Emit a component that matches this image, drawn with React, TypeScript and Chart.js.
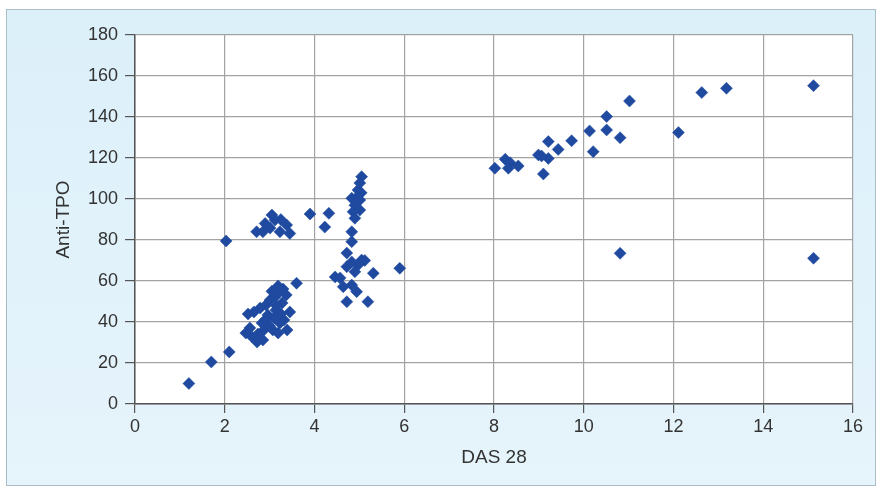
import React, { useEffect, useRef } from "react";
import { Chart, registerables } from "chart.js";

Chart.register(...registerables);

// DAS 28 values (x) and Anti-TPO values (y), paired by index
const dasValues: number[] = [
  1.2, 1.7, 2.1, 2.03,
  2.52, 2.65, 2.79, 2.92, 3.01, 3.12, 3.21, 3.3, 3.19, 3.37, 3.28, 3.14, 3.1, 3.23, 3.32, 3.0,
  2.87, 2.74, 2.61, 2.72, 2.56, 2.47, 2.83, 2.96, 3.07, 3.19, 2.85, 3.45, 3.6, 3.39,
  3.05, 3.15, 2.9, 3.25,
  2.71, 2.9, 3.05, 3.12, 3.01, 3.23, 3.38, 3.45, 2.85, 3.25,
  3.9, 4.32, 4.23,
  5.05, 5.01, 4.97, 4.83, 5.01, 4.9, 4.86, 5.01, 4.9, 5.04, 4.95,
  4.83, 4.83, 4.72, 4.72, 5.05, 4.97, 4.9, 5.31, 4.46, 4.57, 4.64, 4.83, 4.94, 4.72, 5.19,
  5.9, 4.83, 5.12,
  8.02, 8.25, 8.32, 8.36, 8.54, 8.99, 9.1, 9.21, 9.21, 9.06, 9.43, 9.73, 10.13, 10.21,
  10.51, 10.51, 10.81, 11.02, 12.11, 12.63, 13.18, 15.12, 10.81, 15.12,
];
const antiTpoValues: number[] = [
  10, 20.5, 25.4, 79.5,
  43.9, 44.9, 46.8, 48.3, 50.7, 52.2, 54.6, 56.1, 57.6, 53.2, 49.3, 45.9, 42, 39.5, 41, 38,
  36.1, 34.1, 32.7, 30.2, 37.1, 34.6, 39.5, 43.4, 36.1, 34.6, 31.2, 44.9, 58.9, 36.1,
  55, 48, 41, 44,
  84, 88.1, 92.2, 89.8, 85.8, 84, 87.3, 83.2, 84, 90,
  92.7, 93, 86.3,
  110.9, 107.8, 104.4, 100.4, 99.5, 97, 93.8, 94.6, 90.6, 103, 101,
  84, 79.2, 73.6, 67, 70.2, 67.8, 64.5, 63.8, 62, 61.5, 57.2, 58, 54.8, 49.9, 49.9,
  66.2, 69.3, 70,
  115, 119.4, 115, 117.7, 116.1, 121.5, 112.2, 128, 119.8, 121, 124.2, 128.4, 133.2, 123.1,
  140.2, 133.7, 129.9, 147.8, 132.4, 151.9, 154, 155.3, 73.5, 71.1,
];

const xTitle = "DAS 28";
const yTitle = "Anti-TPO";

const plotBg = {
  id: "plotBg",
  beforeDraw(chart: any) {
    const { ctx, chartArea } = chart;
    ctx.save();
    ctx.fillStyle = "#ffffff";
    ctx.fillRect(chartArea.left, chartArea.top, chartArea.right - chartArea.left, chartArea.bottom - chartArea.top);
    ctx.restore();
  },
};

export default function App() {
  const ref = useRef<HTMLCanvasElement>(null);
  useEffect(() => {
    if (!ref.current) return;
    const points = dasValues.map((x, i) => ({ x, y: antiTpoValues[i] }));
    const chart = new Chart(ref.current, {
      type: "scatter",
      data: {
        datasets: [
          {
            data: points,
            pointStyle: "rectRot",
            pointRadius: 6,
            pointBackgroundColor: "#1f4aa0",
            pointBorderColor: "#1f4aa0",
            pointBorderWidth: 0.5,
          },
        ],
      },
      plugins: [plotBg],
      options: {
        animation: false,
        responsive: false,
        maintainAspectRatio: false,
        layout: { padding: { left: 45, top: 25, right: 22, bottom: 16 } },
        plugins: { legend: { display: false }, tooltip: { enabled: false } },
        scales: {
          x: {
            type: "linear",
            min: 0,
            max: 16,
            afterFit: (s: any) => { s.height = 65; },
            ticks: { stepSize: 2, color: "#333333", padding: 3, font: { family: "Liberation Sans, Arial", size: 18 } },
            grid: { color: "#a3a3a3", lineWidth: 1.2, tickLength: 9, tickColor: "#555555", tickWidth: 1.2 },
            border: { color: "#555555", width: 1.5 },
            title: { display: true, text: xTitle, color: "#333333", padding: 0, font: { family: "Liberation Sans, Arial", size: 19 } },
          },
          y: {
            type: "linear",
            min: 0,
            max: 180,
            afterFit: (s: any) => { s.width = 83; },
            ticks: { stepSize: 20, color: "#333333", padding: 7, font: { family: "Liberation Sans, Arial", size: 18 } },
            grid: { color: "#a3a3a3", lineWidth: 1.2, tickLength: 10, tickColor: "#555555", tickWidth: 1.2 },
            border: { color: "#555555", width: 1.5 },
            title: { display: true, text: yTitle, color: "#333333", padding: 0, font: { family: "Liberation Sans, Arial", size: 19 } },
          },
        },
      },
    });
    return () => chart.destroy();
  }, []);
  return (
    <div
      style={{
        position: "absolute",
        left: 6,
        top: 9,
        width: 870,
        height: 477,
        boxSizing: "border-box",
        border: "1px solid #a9bcc8",
        background: "linear-gradient(180deg, #dcf0fa 0%, #e6f4fb 100%)",
      }}
    >
      <canvas ref={ref} width={868} height={475} style={{ display: "block", width: 868, height: 475 }} />
    </div>
  );
}
